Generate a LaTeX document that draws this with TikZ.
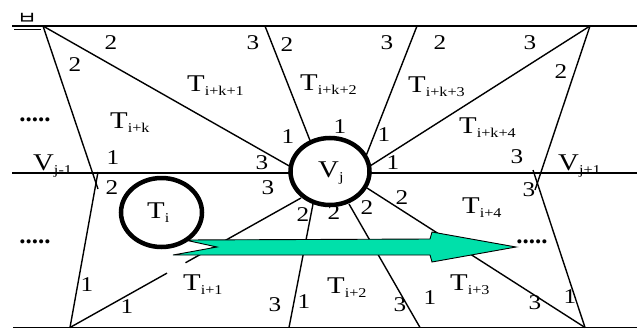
\documentclass[tikz,border=0pt]{standalone}
\usepackage{fontspec}
\setmainfont{Liberation Serif}
\newfontfamily\krfont{Noto Sans CJK KR}
\usetikzlibrary{shapes.geometric,calc}
\definecolor{arrowfill}{RGB}{0,224,170}
\newcommand\hstretch[1]{\scalebox{1.2}[1]{#1}}
\newcommand\lbl[2]{\hstretch{#1\raisebox{-4.5pt}{\fontsize{13.5}{13.5}\selectfont #2}}}
\tikzset{
  num/.style={font=\fontsize{21}{21}\selectfont, inner sep=0pt},
  tri/.style={font=\fontsize{24}{24}\selectfont, inner sep=0pt, anchor=base west},
  dotsnode/.style={font=\fontsize{25}{25}\selectfont\bfseries, inner sep=0pt, anchor=base},
  edgeline/.style={line width=1.4pt},
  hline/.style={line width=1.9pt},
  vertex/.style={ellipse, draw, line width=4.5pt, fill=white, inner sep=0pt},
}
\begin{document}
\begin{tikzpicture}[x=1pt,y=-1pt]
\useasboundingbox (0,0) rectangle (637,332);
% coordinates
\coordinate (TL) at (12,26);   \coordinate (TR) at (637,26);
\coordinate (ML) at (12,173);  \coordinate (MR) at (637,173);
\coordinate (BL) at (13,327.5);\coordinate (BR) at (637,327.5);
\coordinate (UL1) at (14,29.5);\coordinate (UL2) at (41,29.5);
\coordinate (A1) at (43,26);  \coordinate (A2) at (265,26);
\coordinate (A3) at (417,26); \coordinate (A4) at (590,26);
\coordinate (B1) at (70,327.5); \coordinate (B2) at (289,327.5);
\coordinate (B3) at (420,327.5); \coordinate (B4) at (585,327.5);
\coordinate (vmU) at (98,189); \coordinate (vmL) at (98,172);
\coordinate (vpU) at (535,190); \coordinate (vpL) at (533,170);
\coordinate (jA1) at (291,167); \coordinate (jA2) at (311,143);
\coordinate (jA3) at (366,156); \coordinate (jA4) at (370,166);
\coordinate (jB1) at (301,198); \coordinate (jB2) at (313,204);
\coordinate (jB3) at (349,204); \coordinate (jB4) at (367,188);
% horizontal lines
\draw[hline] (TL) -- (TR);
\draw[hline] (ML) -- (MR);
\draw[hline] (BL) -- (BR);
\draw[hline] (UL1) -- (UL2);
% outer edges
\draw[edgeline] (A1) -- (vmU);
\draw[edgeline] (B1) -- (vmL);
\draw[edgeline] (A4) -- (vpU);
\draw[edgeline] (B4) -- (vpL);
% edges to Vj
\draw[edgeline] (A1) -- (jA1);
\draw[edgeline] (A2) -- (jA2);
\draw[edgeline] (A3) -- (jA3);
\draw[edgeline] (A4) -- (jA4);
\draw[edgeline] (B1) -- ($(B1)!0.42!(jB1)$);
\draw[edgeline] ($(B1)!0.5!(jB1)$) -- (jB1);
\draw[edgeline] (B2) -- (jB2);
\draw[edgeline] (B3) -- (jB3);
\draw[edgeline] (B4) -- (jB4);
% arrow
\draw[line width=0.9pt, fill=arrowfill, line join=miter]
  (173,255) -- (217,247) -- (185,240) -- (430,239) -- (432,232) -- (516,247)
  -- (432,262) -- (430,255) -- cycle;
% vertices
\node[vertex, minimum width=79pt, minimum height=67pt] (Vj) at (330,171.5) {};
\node[vertex, minimum width=81pt, minimum height=69pt] (Ti) at (161.5,212.5) {};
% top-left glyph
\node[inner sep=0pt] (glyph) at (27,18.5) {\scalebox{1.8}[1.5]{\krfont\fontsize{12}{12}\selectfont ㅂ}};
% triangle labels
\node[tri] (tvj) at (318,177) {\lbl{V}{j}};
\node[tri] (tti) at (147,218) {\lbl{T}{i}};
\node[tri] (t1) at (183,290) {\lbl{T}{i+1}};
\node[tri] (t2) at (327,293) {\lbl{T}{i+2}};
\node[tri] (t3) at (450,290) {\lbl{T}{i+3}};
\node[tri] (t4) at (462,213) {\lbl{T}{i+4}};
\node[tri] (tk) at (110,128) {\lbl{T}{i+k}};
\node[tri] (tk1) at (187,91) {\lbl{T}{i+k+1}};
\node[tri] (tk2) at (300,90) {\lbl{T}{i+k+2}};
\node[tri] (tk3) at (408,92) {\lbl{T}{i+k+3}};
\node[tri] (tk4) at (459,133) {\lbl{T}{i+k+4}};
\node[tri] (vjm) at (33,170) {\lbl{V}{j-1}};
\node[tri] (vjp) at (558,170) {\lbl{V}{j+1}};
% dots
\node[dotsnode] (d1) at (35,121) {.....};
\node[dotsnode] (d2) at (35,243) {.....};
\node[dotsnode] (d3) at (532,243) {.....};
% numbers
\node[num] (n01) at (111,43) {\hstretch{2}};
\node[num] (n02) at (75,65) {\hstretch{2}};
\node[num] (n03) at (253,43) {\hstretch{3}};
\node[num] (n04) at (287,45) {\hstretch{2}};
\node[num] (n05) at (387,43) {\hstretch{3}};
\node[num] (n06) at (440,43) {\hstretch{2}};
\node[num] (n07) at (530,43) {\hstretch{3}};
\node[num] (n08) at (561,72) {\hstretch{2}};
\node[num] (n09) at (384,135) {\hstretch{1}};
\node[num] (n10) at (517,157) {\hstretch{3}};
\node[num] (n11) at (393,163) {\hstretch{1}};
\node[num] (n12) at (340,127) {\hstretch{1}};
\node[num] (n13) at (288,137) {\hstretch{1}};
\node[num] (n14) at (262,163) {\hstretch{3}};
\node[num] (n15) at (113,158) {\hstretch{1}};
\node[num] (n16) at (268,188) {\hstretch{3}};
\node[num] (n17) at (303,215) {\hstretch{2}};
\node[num] (n18) at (334,213) {\hstretch{2}};
\node[num] (n19) at (367,208) {\hstretch{2}};
\node[num] (n20) at (402,198) {\hstretch{2}};
\node[num] (n21) at (112,188) {\hstretch{2}};
\node[num] (n22) at (87,285) {\hstretch{1}};
\node[num] (n23) at (127,307) {\hstretch{1}};
\node[num] (n24) at (275,305) {\hstretch{3}};
\node[num] (n25) at (304,302) {\hstretch{1}};
\node[num] (n26) at (400,305) {\hstretch{3}};
\node[num] (n27) at (430,298) {\hstretch{1}};
\node[num] (n28) at (535,303) {\hstretch{3}};
\node[num] (n29) at (570,297) {\hstretch{1}};
\node[num] (n30) at (529,190) {\hstretch{3}};
\end{tikzpicture}
\end{document}
